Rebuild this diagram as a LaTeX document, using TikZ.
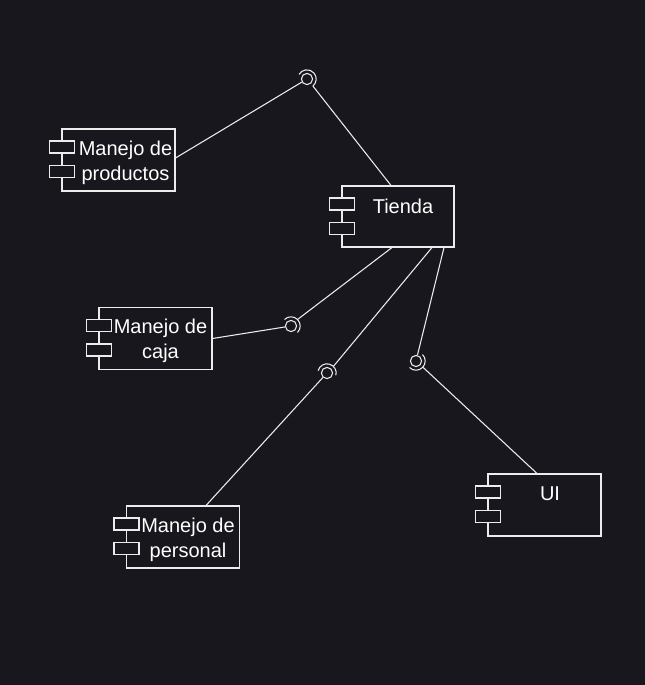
\documentclass[tikz,border=0pt]{standalone}
\usepackage{fontspec}
\setmainfont{Liberation Sans}
\usetikzlibrary{calc}
\definecolor{bg}{RGB}{24,23,29}
\definecolor{fg}{RGB}{236,236,236}
\begin{document}
\begin{tikzpicture}[x=0.75pt,y=-0.75pt,
 comp/.style={draw=fg,line width=0.8pt,minimum width=84.75pt,minimum height=46.5pt,inner sep=0pt},
 port/.style={draw=fg,fill=bg,line width=0.8pt,minimum width=18.75pt,minimum height=9pt,inner sep=0pt},
 ball/.style={circle,draw=fg,line width=0.8pt,minimum size=8.4pt,inner sep=0pt},
 lbl/.style={text=white,font=\fontsize{15}{18.75}\selectfont,align=center,inner sep=0pt},
 wire/.style={draw=fg,line width=0.8pt},
 sock/.style={draw=fg,line width=0.8pt}]
\fill[bg] (0,0) rectangle (645,685);
\useasboundingbox (0,0) rectangle (645,685);

% components
\node[comp] (prod) at (118.5,160) {};
\node[port] (prodp1) at ($(prod.north west)+(0.5,18.5)$) {};
\node[port] (prodp2) at ($(prod.north west)+(0.5,43)$) {};
\node[lbl] (prodt) at (125.5,163) {Manejo de\\productos};

\node[comp,minimum width=84pt,minimum height=45.75pt] (tienda) at (398,216.5) {};
\node[port] (tiendap1) at ($(tienda.north west)+(0.5,18.5)$) {};
\node[port] (tiendap2) at ($(tienda.north west)+(0.5,43)$) {};
\node[lbl] (tiendat) at (403,206) {Tienda};

\node[comp] (caja) at (155.5,338.5) {};
\node[port] (cajap1) at ($(caja.north west)+(0.5,18.5)$) {};
\node[port] (cajap2) at ($(caja.north west)+(0.5,43)$) {};
\node[lbl] (cajat) at (160.5,341) {Manejo de\\caja};

\node[comp] (pers) at (183,537) {};
\node[port] (persp1) at ($(pers.north west)+(0.5,18.5)$) {};
\node[port] (persp2) at ($(pers.north west)+(0.5,43)$) {};
\node[lbl] (perst) at (188,540) {Manejo de\\personal};

\node[comp] (ui) at (544.5,505) {};
\node[port] (uip1) at ($(ui.north west)+(0.5,18.5)$) {};
\node[port] (uip2) at ($(ui.north west)+(0.5,43)$) {};
\node[lbl] (uit) at (550,494) {UI};

% interfaces
\node[ball] (i1) at (307,79) {};
\draw[sock] ($(i1)+(-50:6.9pt)$) arc[start angle=-50,end angle=150,radius=6.9pt];
\coordinate (i1s) at ($(i1)+(-50:6.9pt)$);

\node[ball] (i2) at (291,326) {};
\draw[sock] ($(i2)+(-45:6.9pt)$) arc[start angle=-45,end angle=135,radius=6.9pt];
\coordinate (i2s) at ($(i2)+(45:6.9pt)$);

\node[ball] (i3) at (327,373) {};
\draw[sock] ($(i3)+(-15:6.9pt)$) arc[start angle=-15,end angle=165,radius=6.9pt];
\coordinate (i3s) at ($(i3)+(46:6.9pt)$);

\node[ball] (i4) at (416,361) {};
\draw[sock] ($(i4)+(45:6.9pt)$) arc[start angle=45,end angle=-135,radius=6.9pt];
\coordinate (i4s) at ($(i4)+(-42:6.9pt)$);

% connectors
\draw[wire] ($(prod.east)+(0,-2)$) -- (i1);
\draw[wire] ($(tienda.north)+(-7,0)$) -- (i1s);
\draw[wire] (caja.east) -- (i2);
\draw[wire] ($(tienda.south)+(-6,0)$) -- (i2s);
\draw[wire] ($(tienda.south)+(34,0)$) -- (i3s);
\draw[wire] (i3) -- ($(pers.north)+(23,0)$);
\draw[wire] ($(tienda.south)+(46,0)$) -- (i4);
\draw[wire] (i4s) -- ($(ui.north)+(-7.5,0)$);
\end{tikzpicture}
\end{document}
